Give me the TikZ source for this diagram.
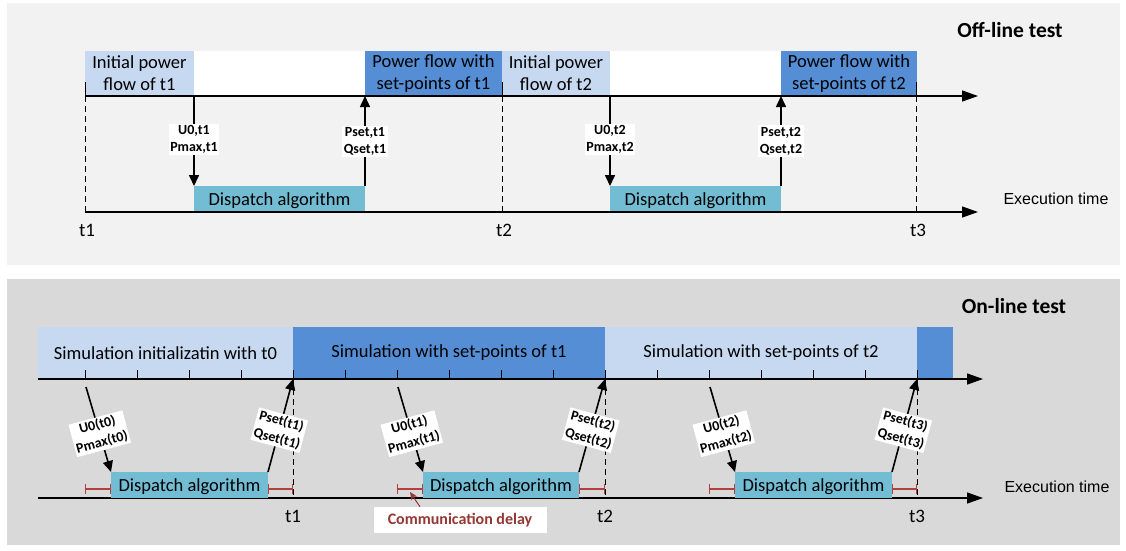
\documentclass[tikz,border=0pt]{standalone}
\usepackage{fontspec}
\setmainfont{Carlito}
\newfontfamily\axisfont{Liberation Sans}
\usetikzlibrary{arrows.meta}
\definecolor{panelup}{HTML}{F2F2F2}
\definecolor{paneldown}{HTML}{D9D9D9}
\definecolor{pflight}{HTML}{C6D9F1}
\definecolor{pfdark}{HTML}{558ED5}
\definecolor{algo}{HTML}{72BCD4}
\definecolor{delay}{HTML}{B0413E}
\definecolor{delaytext}{HTML}{953735}

\begin{document}
\begin{tikzpicture}[x=1pt,y=-1pt,
  blk/.style={anchor=north west, inner sep=0pt, outer sep=0pt, align=center,
    font=\fontsize{18.5}{22}\selectfont},
  flowbox/.style={blk, minimum height=45pt},
  simbox/.style={blk, minimum height=52pt},
  algobox/.style={blk, fill=algo, minimum height=26pt, text depth=0pt},
  timeaxis/.style={line width=1.3pt, -{Triangle[length=16pt,width=11pt]}},
  databus/.style={line width=1.6pt, -{Triangle[length=11pt,width=10pt]}},
  vlabel/.style={fill=white, inner sep=1.5pt, align=center,
    font=\bfseries\fontsize{14}{17}\selectfont},
  tiltlabel/.style={vlabel, font=\bfseries\fontsize{14}{18}\selectfont},
  marker/.style={line width=0.9pt, dash pattern=on 6pt off 4pt},
  tickmark/.style={line width=1pt},
  tlabel/.style={font=\fontsize{19}{22}\selectfont},
  exectime/.style={font=\axisfont\fontsize{16}{18}\selectfont},
  heading/.style={font=\bfseries\fontsize{21.5}{24}\selectfont},
  delaybar/.style={delay, line width=1.3pt, {Bar[width=10pt,line width=1.3pt]}-{Bar[width=10pt,line width=1.3pt]}},
]
\useasboundingbox (0,0) rectangle (1126,550);
\fill[white] (0,0) rectangle (1126,550);

% ---------- off-line panel ----------
\fill[panelup] (7,3) rectangle (1120,265);
\node[heading] (offtitle) at (1010,30) {Off-line test};

\node[flowbox, fill=pflight, minimum width=109pt] (ip1) at (85,51) {Initial power\\flow of t1};
\node[flowbox, fill=white,   minimum width=171pt] (wh1) at (194,51) {};
\node[flowbox, fill=pfdark,  minimum width=137pt] (pf1) at (365,51) {Power flow with\\set-points of t1};
\node[flowbox, fill=pflight, minimum width=108pt] (ip2) at (502,51) {Initial power\\flow of t2};
\node[flowbox, fill=white,   minimum width=171pt] (wh2) at (610,51) {};
\node[flowbox, fill=pfdark,  minimum width=136pt] (pf2) at (781,51) {Power flow with\\set-points of t2};

\node[algobox, minimum width=171pt] (da1) at (194,186) {Dispatch algorithm};
\node[algobox, minimum width=171pt] (da2) at (610,186) {Dispatch algorithm};

\coordinate (ua0) at (85,96);  \coordinate (ua1) at (978,96);
\coordinate (la0) at (85,212); \coordinate (la1) at (978,212);
\draw[timeaxis] (ua0) -- (ua1);
\draw[timeaxis] (la0) -- (la1);

\foreach \x/\n in {85/1,502/2,916/3}{
  \coordinate (otop\n) at (\x,82);
  \coordinate (omid\n) at (\x,96);
  \coordinate (obot\n) at (\x,212);
  \draw[tickmark] (otop\n) -- (omid\n);
  \draw[marker] (omid\n) -- (obot\n);
  \node[tlabel] (ot\n) at (\x+2,230) {t\n};
}

\draw[databus] (ip1.south east) -- (da1.north west)
  node[vlabel, pos=.48] (in1) {U0,t1\\Pmax,t1};
\draw[databus] (da1.north east) -- (pf1.south west)
  node[vlabel, pos=.5] (out1) {Pset,t1\\Qset,t1};
\draw[databus] (ip2.south east) -- (da2.north west)
  node[vlabel, pos=.48] (in2) {U0,t2\\Pmax,t2};
\draw[databus] (da2.north east) -- (pf2.south west)
  node[vlabel, pos=.5] (out2) {Pset,t2\\Qset,t2};

\node[exectime] (ex1) at (1056,199) {Execution time};

% ---------- on-line panel ----------
\fill[paneldown] (7,279) rectangle (1120,545);
\node[heading] (ontitle) at (1014,306) {On-line test};

\node[simbox, fill=pflight, minimum width=255pt] (s0) at (38,327) {Simulation initializatin with t0};
\node[simbox, fill=pfdark,  minimum width=312pt] (s1) at (293,327) {Simulation with set-points of t1};
\node[simbox, fill=pflight, minimum width=312pt] (s2) at (605,327) {Simulation with set-points of t2};
\node[simbox, fill=pfdark,  minimum width=36pt]  (s3) at (917,327) {};

\coordinate (ub0) at (38,379);  \coordinate (ub1) at (983,379);
\coordinate (lb0) at (38,498);  \coordinate (lb1) at (983,498);
\draw[timeaxis] (ub0) -- (ub1);
\draw[timeaxis] (lb0) -- (lb1);

\foreach \k in {0,...,16}{
  \draw[tickmark] (85+52*\k,370) -- (85+52*\k,379);
}

\node[algobox, minimum width=157pt] (db1) at (111,472) {Dispatch algorithm};
\node[algobox, minimum width=156pt] (db2) at (423,472) {Dispatch algorithm};
\node[algobox, minimum width=157pt] (db3) at (735,472) {Dispatch algorithm};

\foreach \x/\n in {293/1,605/2,917/3}{
  \coordinate (ntop\n) at (\x,379);
  \coordinate (nbot\n) at (\x,498);
  \draw[marker] (ntop\n) -- (nbot\n);
  \node[tlabel] (nt\n) at (\x,516) {t\n};
}

% read-out instants just under the upper axis
\coordinate (rd1) at (86,387);
\coordinate (rd2) at (398,387);
\coordinate (rd3) at (710,387);

% communication delays
\coordinate (cl1) at (85,489);  \coordinate (cr1) at (111,489);
\coordinate (cl2) at (397,489); \coordinate (cr2) at (423,489);
\coordinate (cl3) at (709,489); \coordinate (cr3) at (735,489);
\coordinate (cl4) at (268,489); \coordinate (cr4) at (293,489);
\coordinate (cl5) at (579,489); \coordinate (cr5) at (605,489);
\coordinate (cl6) at (892,489); \coordinate (cr6) at (917,489);
\foreach \n in {1,...,6}{ \draw[delaybar] (cl\n) -- (cr\n); }

\draw[databus] (rd1) -- (db1.north west)
  node[tiltlabel, rotate=15, pos=.55] (bin1) {U0(t0)\\Pmax(t0)};
\draw[databus] (db1.north east) -- (ntop1)
  node[tiltlabel, rotate=-15, pos=.45] (bout1) {Pset(t1)\\Qset(t1)};
\draw[databus] (rd2) -- (db2.north west)
  node[tiltlabel, rotate=15, pos=.55] (bin2) {U0(t1)\\Pmax(t1)};
\draw[databus] (db2.north east) -- (ntop2)
  node[tiltlabel, rotate=-15, pos=.45] (bout2) {Pset(t2)\\Qset(t2)};
\draw[databus] (rd3) -- (db3.north west)
  node[tiltlabel, rotate=15, pos=.55] (bin3) {U0(t2)\\Pmax(t2)};
\draw[databus] (db3.north east) -- (ntop3)
  node[tiltlabel, rotate=-15, pos=.45] (bout3) {Pset(t3)\\Qset(t3)};

\node[fill=white, minimum width=173pt, minimum height=26pt, inner sep=0pt,
  text=delaytext, font=\bfseries\fontsize{16}{18}\selectfont] (cd) at (460,520)
  {Communication delay};
\coordinate (cdtip) at (410,492);
\draw[delaytext, line width=1pt, -{Stealth[length=8pt,width=7pt]}]
  ([xshift=-40pt]cd.north) -- (cdtip);

\node[exectime] (ex2) at (1057,487) {Execution time};
\end{tikzpicture}
\end{document}
